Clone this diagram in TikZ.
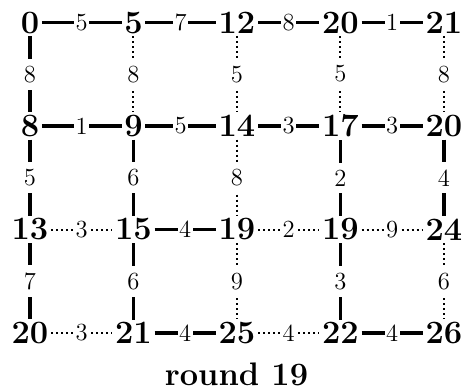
\documentclass[tikz,border=0pt]{standalone}
\usepackage{fontspec}
\begin{document}
\begin{tikzpicture}[x=0.5pt,y=-0.5pt,
  vtx/.style={inner sep=1.2pt,font=\fontsize{16.3pt}{19pt}\selectfont\bfseries},
  lab/.style={fill=white,inner xsep=0.7pt,inner ysep=3.6pt,font=\fontsize{12.3pt}{14pt}\selectfont},
  solidedge/.style={line width=1.65pt},
  dotedge/.style={line width=1pt,dash pattern=on 1pt off 1.5pt}]
\useasboundingbox (0,0) rectangle (463,392);
% nodes
\node[vtx] (a00) at (30,22.5) {0};
\node[vtx] (a01) at (133.5,22.5) {5};
\node[vtx] (a02) at (237,22.5) {12};
\node[vtx] (a03) at (340.5,22.5) {20};
\node[vtx] (a04) at (444,22.5) {21};
\node[vtx] (a10) at (30,126) {8};
\node[vtx] (a11) at (133.5,126) {9};
\node[vtx] (a12) at (237,126) {14};
\node[vtx] (a13) at (340.5,126) {17};
\node[vtx] (a14) at (444,126) {20};
\node[vtx] (a20) at (30,229.5) {13};
\node[vtx] (a21) at (133.5,229.5) {15};
\node[vtx] (a22) at (237,229.5) {19};
\node[vtx] (a23) at (340.5,229.5) {19};
\node[vtx] (a24) at (444,229.5) {24};
\node[vtx] (a30) at (30,333) {20};
\node[vtx] (a31) at (133.5,333) {21};
\node[vtx] (a32) at (237,333) {25};
\node[vtx] (a33) at (340.5,333) {22};
\node[vtx] (a34) at (444,333) {26};
\node[vtx,anchor=base] (title) at (236.5,385) {round 19};
% horizontal edges
\draw[solidedge] (a00) -- node[lab]{5} (a01);
\draw[solidedge] (a01) -- node[lab]{7} (a02);
\draw[solidedge] (a02) -- node[lab]{8} (a03);
\draw[solidedge] (a03) -- node[lab]{1} (a04);
\draw[solidedge] (a10) -- node[lab]{1} (a11);
\draw[solidedge] (a11) -- node[lab]{5} (a12);
\draw[solidedge] (a12) -- node[lab]{3} (a13);
\draw[solidedge] (a13) -- node[lab]{3} (a14);
\draw[dotedge] (a20) -- node[lab]{3} (a21);
\draw[solidedge] (a21) -- node[lab]{4} (a22);
\draw[dotedge] (a22) -- node[lab]{2} (a23);
\draw[dotedge] (a23) -- node[lab]{9} (a24);
\draw[dotedge] (a30) -- node[lab]{3} (a31);
\draw[solidedge] (a31) -- node[lab]{4} (a32);
\draw[dotedge] (a32) -- node[lab]{4} (a33);
\draw[solidedge] (a33) -- node[lab]{4} (a34);
% vertical edges
\draw[solidedge] (a00) -- node[lab]{8} (a10);
\draw[solidedge] (a10) -- node[lab]{5} (a20);
\draw[solidedge] (a20) -- node[lab]{7} (a30);
\draw[dotedge] (a01) -- node[lab]{8} (a11);
\draw[solidedge] (a11) -- node[lab]{6} (a21);
\draw[solidedge] (a21) -- node[lab]{6} (a31);
\draw[dotedge] (a02) -- node[lab]{5} (a12);
\draw[dotedge] (a12) -- node[lab]{8} (a22);
\draw[dotedge] (a22) -- node[lab]{9} (a32);
\draw[dotedge] (a03) -- node[lab]{5} (a13);
\draw[solidedge] (a13) -- node[lab]{2} (a23);
\draw[solidedge] (a23) -- node[lab]{3} (a33);
\draw[dotedge] (a04) -- node[lab]{8} (a14);
\draw[solidedge] (a14) -- node[lab]{4} (a24);
\draw[dotedge] (a24) -- node[lab]{6} (a34);
\end{tikzpicture}
\end{document}
